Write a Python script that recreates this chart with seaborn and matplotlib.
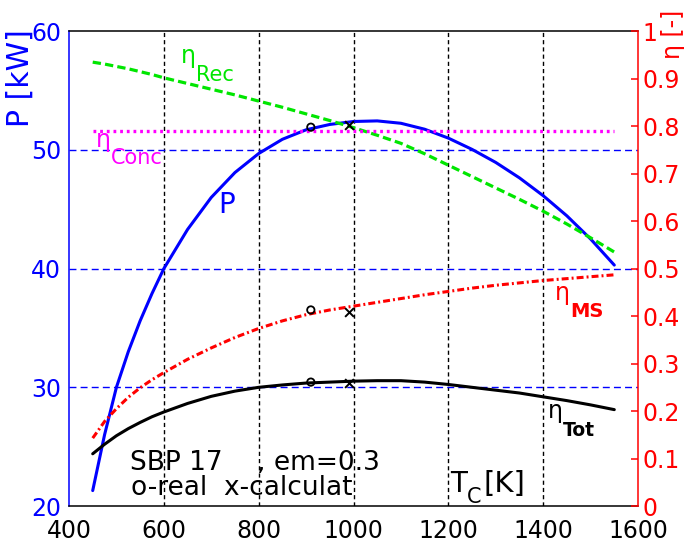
import matplotlib
matplotlib.use("Agg")
import matplotlib.pyplot as plt
import pandas as pd
import seaborn as sns

# ---------------- data ----------------
T_C = [450, 475, 500, 525, 550, 575, 600, 650, 700, 750, 800, 850, 900, 950, 1000,
       1050, 1100, 1150, 1200, 1250, 1300, 1350, 1400, 1450, 1500, 1550]
P_kW = [21.3, 26.0, 30.0, 33.0, 35.6, 37.9, 40.0, 43.3, 46.0, 48.1, 49.7, 50.9, 51.7, 52.15, 52.4,
        52.45, 52.25, 51.75, 51.0, 50.05, 48.95, 47.65, 46.15, 44.45, 42.5, 40.3]
eta_Rec = [0.935, 0.931, 0.926, 0.921, 0.915, 0.909, 0.902, 0.890, 0.878, 0.866, 0.853, 0.840, 0.826,
           0.812, 0.797, 0.781, 0.764, 0.742, 0.718, 0.694, 0.670, 0.646, 0.621, 0.594, 0.565, 0.535]
eta_Conc = [0.79, 0.79, 0.79, 0.79, 0.79, 0.79, 0.79, 0.79, 0.79, 0.79, 0.79, 0.79, 0.79,
            0.79, 0.79, 0.79, 0.79, 0.79, 0.79, 0.79, 0.79, 0.79, 0.79, 0.79, 0.79, 0.79]
eta_MS = [0.143, 0.178, 0.205, 0.229, 0.249, 0.266, 0.281, 0.309, 0.333, 0.355, 0.374, 0.390, 0.403,
          0.413, 0.421, 0.429, 0.437, 0.445, 0.452, 0.459, 0.465, 0.470, 0.475, 0.479, 0.483, 0.487]
eta_Tot = [0.110, 0.130, 0.148, 0.163, 0.176, 0.188, 0.198, 0.216, 0.231, 0.242, 0.250, 0.255, 0.259,
           0.261, 0.263, 0.264, 0.264, 0.261, 0.256, 0.250, 0.244, 0.238, 0.230, 0.222, 0.213, 0.203]

T_real = [910, 910, 910]
eta_real = [0.798, 0.413, 0.261]
T_calc = [990, 990, 990]
eta_calc = [0.802, 0.408, 0.259]

T_ticks = [400, 600, 800, 1000, 1200, 1400, 1600]
P_ticks = [20, 30, 40, 50, 60]
eta_ticks = [0, 0.1, 0.2, 0.3, 0.4, 0.5, 0.6, 0.7, 0.8, 0.9, 1.0]
eta_ticklabels = ["0", "0.1", "0.2", "0.3", "0.4", "0.5", "0.6", "0.7", "0.8", "0.9", "1"]

df = pd.DataFrame({"T": T_C, "P": P_kW, "Rec": eta_Rec, "Conc": eta_Conc,
                   "MS": eta_MS, "Tot": eta_Tot})
df_real = pd.DataFrame({"T": T_real, "eta": eta_real})
df_calc = pd.DataFrame({"T": T_calc, "eta": eta_calc})

# ---------------- style ----------------
sns.set_theme(style="white")
plt.rcParams["font.family"] = ["DejaVu Sans"]
plt.rcParams["lines.scale_dashes"] = False
plt.rcParams["axes.linewidth"] = 1.1
plt.rcParams["lines.solid_joinstyle"] = "round"
plt.rcParams["lines.dash_joinstyle"] = "round"

BLUE = "#0000ff"
RED = "#ff0000"
GREEN = "#00e600"
MAGENTA = "#ff00ff"

fig = plt.figure(figsize=(6.87, 5.49), dpi=100)
ax = fig.add_axes([69 / 687, 1 - 506 / 549, 569 / 687, (506 - 31.3) / 549])
ax2 = ax.twinx()

# grid (P axis)
ax.set_xlim(400, 1600)
ax.set_ylim(20, 60)
ax.set_xticks(T_ticks)
ax.set_yticks(P_ticks)
ax.xaxis.grid(True, color="black", linestyle=(0, (3, 2.2)), linewidth=1.0)
ax.yaxis.grid(True, color=BLUE, linestyle=(0, (5, 3)), linewidth=1.0)
for i in (0, -1):
    ax.get_xgridlines()[i].set_visible(False)
    ax.get_ygridlines()[i].set_visible(False)
ax.set_axisbelow(True)

# P curve
sns.lineplot(data=df, x="T", y="P", ax=ax, color=BLUE, linewidth=2.2)

# efficiency curves
ax2.set_ylim(0, 1)
sns.lineplot(data=df, x="T", y="Rec", ax=ax2, color=GREEN, linewidth=2.3,
             linestyle=(0, (6, 3)))
sns.lineplot(data=df, x="T", y="Conc", ax=ax2, color=MAGENTA, linewidth=2.4,
             linestyle=(0, (2.0, 2.8)))
sns.lineplot(data=df, x="T", y="MS", ax=ax2, color=RED, linewidth=2.2,
             linestyle=(0, (5, 2.2, 1.4, 2.2)))
sns.lineplot(data=df, x="T", y="Tot", ax=ax2, color="black", linewidth=2.2)
sns.scatterplot(data=df_real, x="T", y="eta", ax=ax2, marker="o", s=28,
                facecolors="none", edgecolors="black", linewidth=1.3, zorder=5)
sns.scatterplot(data=df_calc, x="T", y="eta", ax=ax2, marker="x", s=40,
                color="black", linewidth=1.4, zorder=5)

# axes decoration
ax.set_xlabel("")
ax.set_ylabel("")
ax2.set_xlabel("")
ax2.set_ylabel("")
ax.set_xticklabels([str(t) for t in T_ticks])
ax.set_yticklabels([str(p) for p in P_ticks])
ax2.set_yticks(eta_ticks)
ax2.set_yticklabels(eta_ticklabels)

ax.tick_params(axis="x", length=0, pad=9.5, labelsize=17, labelcolor="black")
ax.tick_params(axis="y", length=0, pad=5.5, labelsize=17, labelcolor=BLUE)
ax2.tick_params(axis="y", direction="in", length=5, width=1.1, color=RED,
                pad=3, labelsize=17, labelcolor=RED)

ax.spines["left"].set_color(BLUE)
ax.spines["right"].set_visible(False)
ax.spines["top"].set_color("black")
ax.spines["bottom"].set_color("black")
for s in ("left", "top", "bottom"):
    ax2.spines[s].set_visible(False)
ax2.spines["right"].set_color(RED)

# axis titles
fig.text(20 / 687, 1 - 78 / 549, "P [kW]", rotation=90, color=BLUE, fontsize=21.5,
         ha="center", va="center")
fig.text(673 / 687, 1 - 34 / 549, "η [-]", rotation=90, color=RED, fontsize=17,
         ha="center", va="center")


def eta_label(x, y, sub, color, bold=False, size=15):
    ax.text(x, y, "η", color=color, fontsize=17, ha="left", va="baseline")
    ax.annotate(sub, xy=(x, y), xytext=(11, -12.5), textcoords="offset points",
                color=color, fontsize=size, ha="left", va="baseline",
                fontweight="bold" if bold else "normal")


eta_label(635, 57.3, "Rec", GREEN)
eta_label(456, 50.25, "Conc", MAGENTA)
eta_label(1424, 37.35, "MS", RED, bold=True, size=14)
eta_label(1410, 27.4, "Tot", "black", bold=True, size=13.5)
ax.text(715, 44.7, "P", color=BLUE, fontsize=20, ha="left", va="baseline")

# annotations
ax.text(528, 23.0, "SBP 17", color="black", fontsize=19, ha="left", va="baseline")
ax.text(797, 23.0, ", em=0.3", color="black", fontsize=19, ha="left", va="baseline")
ax.text(530, 20.95, "o-real  x-calculat", color="black", fontsize=19,
        ha="left", va="baseline")
ax.text(1203, 21.2, "T", color="black", fontsize=20, ha="left", va="baseline")
ax.annotate("C", xy=(1203, 21.2), xytext=(12.2, -8), textcoords="offset points",
            color="black", fontsize=15, ha="left", va="baseline")
ax.annotate("[K]", xy=(1203, 21.2), xytext=(24.5, 0), textcoords="offset points",
            color="black", fontsize=21, ha="left", va="baseline")

fig.savefig("out.png", dpi=100)
